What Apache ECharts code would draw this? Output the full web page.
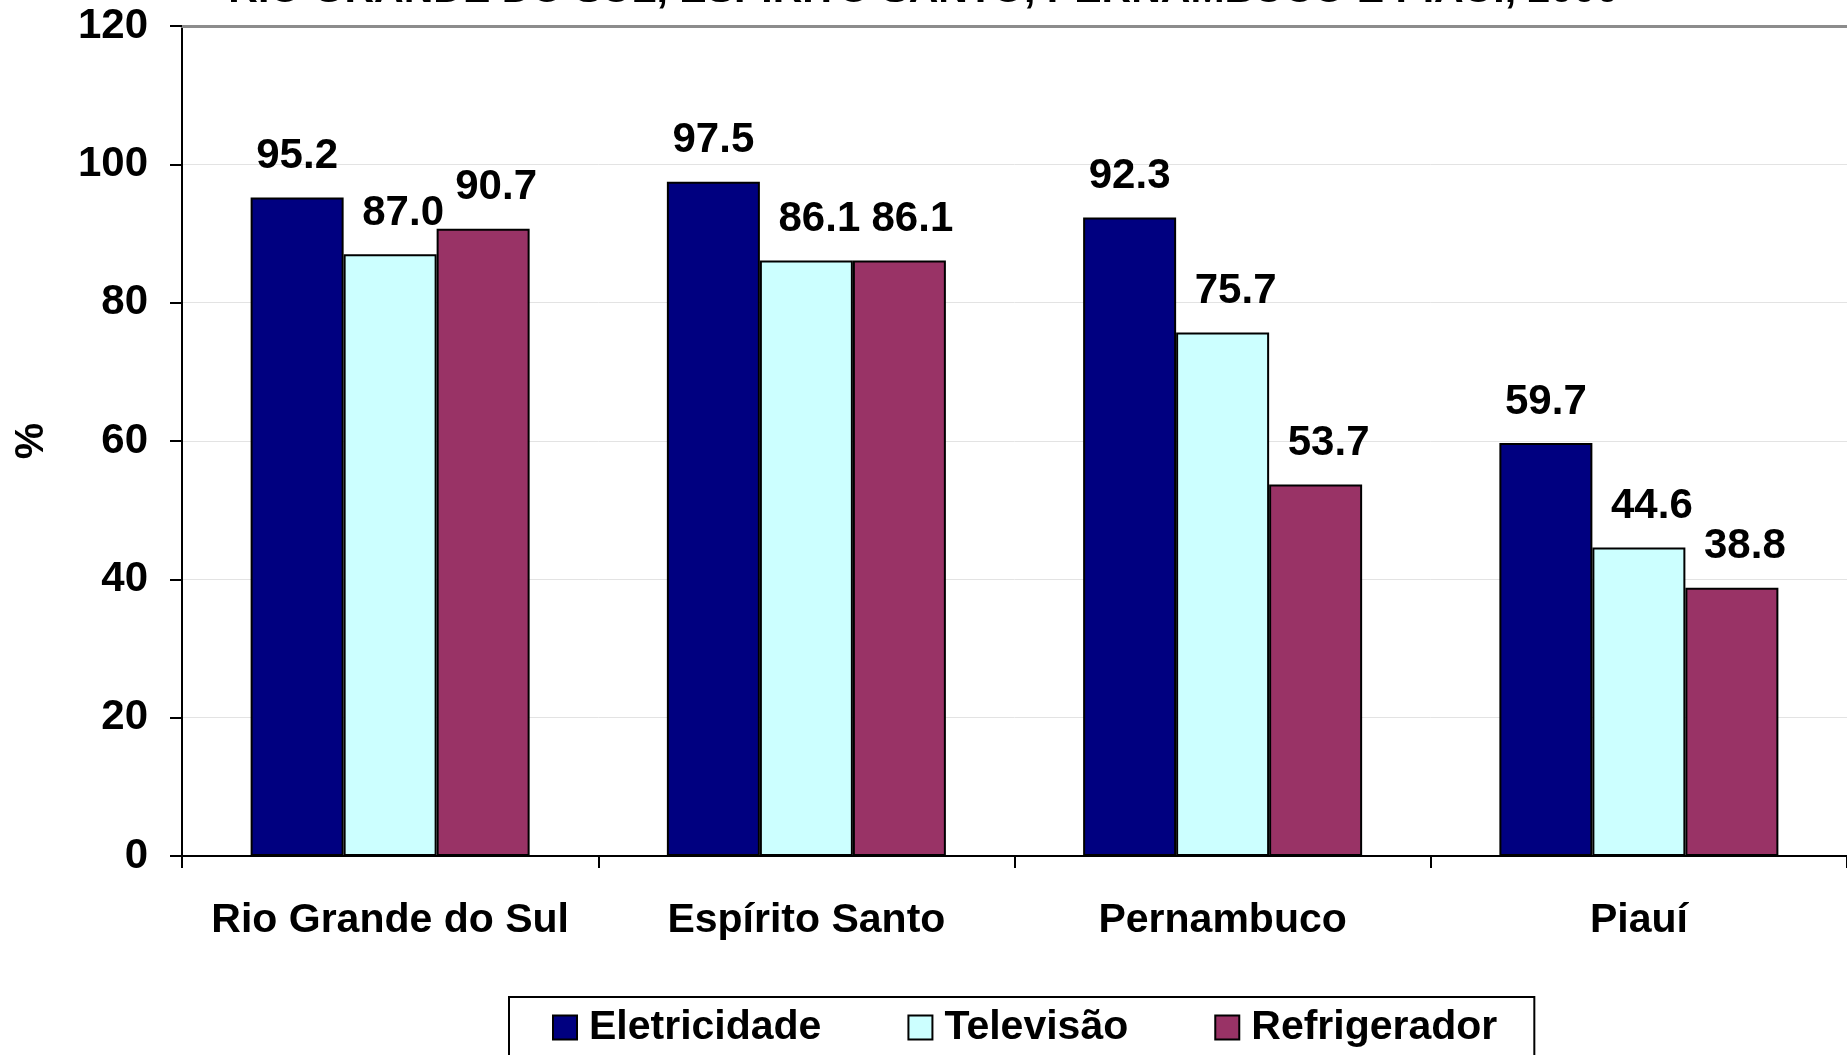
<!DOCTYPE html>
<html>
<head>
<meta charset="utf-8">
<script src="https://cdn.jsdelivr.net/npm/echarts@6/dist/echarts.min.js"></script>
<style>
  html, body { margin: 0; padding: 0; background: #fff; }
  #chart { width: 1847px; height: 1055px; }
</style>
</head>
<body>
<div id="chart"></div>
<script>
// dados do gráfico
const titulo = 'RIO GRANDE DO SUL, ESPÍRITO SANTO, PERNAMBUCO E PIAUÍ, 2000';
const estados = ['Rio Grande do Sul', 'Espírito Santo', 'Pernambuco', 'Piauí'];
const eletricidade = [95.2, 97.5, 92.3, 59.7];
const televisao = [87.0, 86.1, 75.7, 44.6];
const refrigerador = [90.7, 86.1, 53.7, 38.8];
const yTicks = [0, 20, 40, 60, 80, 100, 120];

const fonte = "'Liberation Sans', Arial, sans-serif";
const texto = { fontFamily: fonte, fontWeight: 'bold', fontSize: 41, color: '#000' };

const serieBase = (name, data, color, offsetX) => ({
  name,
  type: 'bar',
  data,
  barWidth: 93,
  barGap: 0,
  itemStyle: { color, borderColor: '#000', borderWidth: 2 },
  label: {
    show: true,
    position: 'top',
    distance: 20,
    offset: [offsetX, 0],
    ...texto,
    fontSize: 42,
    formatter: p => p.value.toFixed(1),
  },
});

const myChart = echarts.init(document.getElementById('chart'));
myChart.setOption({
  animation: false,
  backgroundColor: '#fff',
  title: {
    text: titulo,
    left: 'center',
    top: -30,
    padding: 0,
    textStyle: { ...texto, fontSize: 41 },
  },
  grid: { left: 182, right: 0, top: 26, bottom: 199, containLabel: false, outerBoundsMode: 'none' },
  legend: {
    left: 509,
    top: 997,
    padding: [10, 37, 40, 43],
    borderColor: '#000',
    borderWidth: 2,
    itemWidth: 24,
    itemHeight: 24,
    itemGap: 86,
    icon: 'rect',
    textStyle: { ...texto, padding: [0, 0, 0, 7] },
    data: ['Eletricidade', 'Televisão', 'Refrigerador'],
  },
  xAxis: [
    {
      type: 'category',
      data: estados,
      axisLine: { lineStyle: { color: '#000', width: 2 } },
      axisTick: { show: true, interval: 0, length: 12, lineStyle: { color: '#000', width: 2 } },
      axisLabel: { ...texto, interval: 0, margin: 44 },
    },
    {
      type: 'category',
      position: 'top',
      data: estados,
      axisLine: { show: true, lineStyle: { color: '#8c8c8c', width: 3 } },
      axisTick: { show: false },
      axisLabel: { show: false },
    },
  ],
  yAxis: {
    type: 'value',
    min: yTicks[0],
    max: yTicks[yTicks.length - 1],
    interval: 20,
    name: '%',
    nameLocation: 'middle',
    nameGap: 130,
    nameRotate: 90,
    nameTextStyle: { ...texto },
    axisLine: { show: true, lineStyle: { color: '#000', width: 2 } },
    axisTick: { show: true, length: 12, lineStyle: { color: '#000', width: 2 } },
    axisLabel: { ...texto, fontSize: 42, margin: 34 },
    splitLine: { lineStyle: { color: '#e3e3e3', width: 1 } },
  },
  series: [
    serieBase('Eletricidade', eletricidade, '#000080', 0),
    serieBase('Televisão', televisao, '#CCFFFF', 13),
    serieBase('Refrigerador', refrigerador, '#993366', 13),
  ],
});
</script>
</body>
</html>
